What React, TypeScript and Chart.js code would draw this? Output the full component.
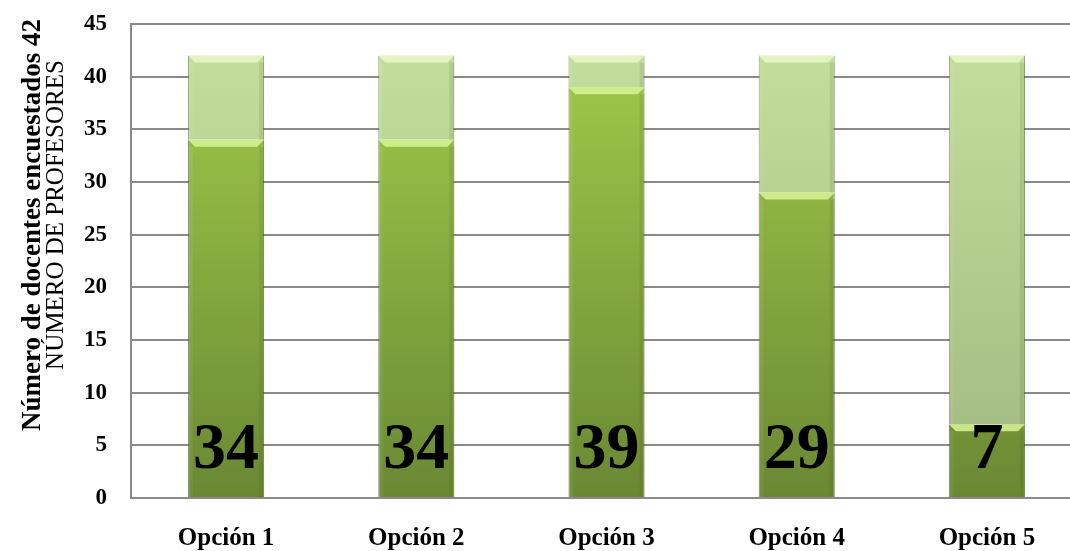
import React, { useEffect, useRef } from "react";
import { Chart, registerables } from "chart.js";

Chart.register(...registerables);

const categories = ["Opción 1", "Opción 2", "Opción 3", "Opción 4", "Opción 5"];
const profesores = [34, 34, 39, 29, 7];
const restantes = [8, 8, 3, 13, 35];
const yTicks = [0, 5, 10, 15, 20, 25, 30, 35, 40, 45];
const titleBold = "Número de docentes encuestados 42";
const titleNormal = "NÚMERO DE PROFESORES";

const SERIF = "'Liberation Serif', 'Times New Roman', serif";

function gradient(chart: any, top: string, bottom: string, fallback: string) {
  const area = chart.chartArea;
  if (!area) return fallback;
  const g = chart.ctx.createLinearGradient(0, area.top, 0, area.bottom);
  g.addColorStop(0, top);
  g.addColorStop(1, bottom);
  return g;
}

const bevelPlugin = {
  id: "bevel",
  afterDatasetsDraw(chart: any) {
    const ctx = chart.ctx;
    chart.data.datasets.forEach((ds: any, di: number) => {
      const meta = chart.getDatasetMeta(di);
      meta.data.forEach((bar: any) => {
        const { x, y, base, width } = bar.getProps(["x", "y", "base", "width"], true);
        const l = x - width / 2;
        const r = x + width / 2;
        const h = 7;
        ctx.save();
        ctx.beginPath();
        ctx.moveTo(l, y);
        ctx.lineTo(r, y);
        ctx.lineTo(r - h, y + h);
        ctx.lineTo(l + h, y + h);
        ctx.closePath();
        ctx.fillStyle = di === 0 ? "rgba(215,245,150,0.85)" : "rgba(235,250,205,0.8)";
        ctx.fill();
        ctx.fillStyle = "rgba(60,80,20,0.12)";
        ctx.fillRect(r - 5, y + h, 5, base - y - h);
        ctx.fillStyle = "rgba(255,255,255,0.06)";
        ctx.fillRect(l, y + h, 5, base - y - h);
        ctx.restore();
      });
    });
  },
};

const labelsPlugin = {
  id: "labelsAndTitle",
  afterDraw(chart: any) {
    const ctx = chart.ctx;
    const yScale = chart.scales.y;
    const meta = chart.getDatasetMeta(0);
    ctx.save();
    ctx.fillStyle = "#000";
    ctx.font = `bold 66px ${SERIF}`;
    ctx.textAlign = "center";
    ctx.textBaseline = "middle";
    const ly = yScale.getPixelForValue(0) - 47;
    meta.data.forEach((bar: any, i: number) => {
      ctx.fillText(String(profesores[i]), bar.x, ly);
    });
    ctx.restore();

    ctx.save();
    ctx.fillStyle = "#000";
    ctx.textAlign = "center";
    ctx.textBaseline = "alphabetic";
    ctx.translate(40, 225);
    ctx.rotate(-Math.PI / 2);
    ctx.font = `bold 27px ${SERIF}`;
    ctx.fillText(titleBold, 0, 0);
    ctx.restore();

    ctx.save();
    ctx.fillStyle = "#000";
    ctx.textAlign = "center";
    ctx.textBaseline = "alphabetic";
    ctx.translate(63, 215);
    ctx.rotate(-Math.PI / 2);
    ctx.font = `25px ${SERIF}`;
    ctx.fillText(titleNormal, 0, 0);
    ctx.restore();
  },
};

export default function App() {
  const ref = useRef<HTMLCanvasElement | null>(null);

  useEffect(() => {
    document.body.style.margin = "0";
    const canvas = ref.current;
    if (!canvas) return;
    const chart = new Chart(canvas, {
      type: "bar",
      data: {
        labels: categories,
        datasets: [
          {
            label: "Profesores",
            data: profesores,
            backgroundColor: (c: any) => gradient(c.chart, "#a4cd4c", "#6a8833", "#8db043"),
            borderColor: "rgba(70,90,30,0.75)",
            borderWidth: { left: 1, right: 1, top: 0, bottom: 0 },
            borderSkipped: false,
            barPercentage: 0.4,
            categoryPercentage: 1,
          },
          {
            label: "Resto",
            data: restantes,
            backgroundColor: (c: any) => gradient(c.chart, "#c6e09e", "#9fb87f", "#bcd594"),
            borderColor: "rgba(90,110,60,0.7)",
            borderWidth: { left: 1, right: 1, top: 0, bottom: 0 },
            borderSkipped: false,
            barPercentage: 0.4,
            categoryPercentage: 1,
          },
        ],
      },
      options: {
        animation: false,
        responsive: false,
        maintainAspectRatio: false,
        layout: { padding: { top: 24, right: 8, left: 0, bottom: 0 } },
        plugins: {
          legend: { display: false },
          tooltip: { enabled: false },
        },
        scales: {
          x: {
            stacked: true,
            grid: { display: false, drawTicks: false },
            border: { display: true, color: "#8a8a8a", width: 2 },
            ticks: {
              color: "#000",
              font: { family: SERIF, size: 25, weight: "bold" },
              padding: 26,
              maxRotation: 0,
            },
            afterFit: (s: any) => {
              s.height = 53;
            },
          },
          y: {
            stacked: true,
            min: 0,
            max: 45,
            afterBuildTicks: (s: any) => {
              s.ticks = yTicks.map((v) => ({ value: v }));
            },
            grid: {
              color: "#8a8a8a",
              lineWidth: 2,
              drawTicks: true,
              tickLength: 20,
              tickColor: "rgba(0,0,0,0)",
            },
            border: { display: true, color: "#8a8a8a", width: 2 },
            ticks: {
              color: "#000",
              font: { family: SERIF, size: 23, weight: "bold" },
              padding: 4,
            },
            afterFit: (s: any) => {
              s.width = 131;
            },
          },
        },
      },
      plugins: [bevelPlugin, labelsPlugin],
    } as any);
    return () => chart.destroy();
  }, []);

  return (
    <div style={{ width: 1070, height: 551, overflow: "hidden", background: "#fff" }}>
      <canvas ref={ref} width={1090} height={551} style={{ display: "block" }} />
    </div>
  );
}
